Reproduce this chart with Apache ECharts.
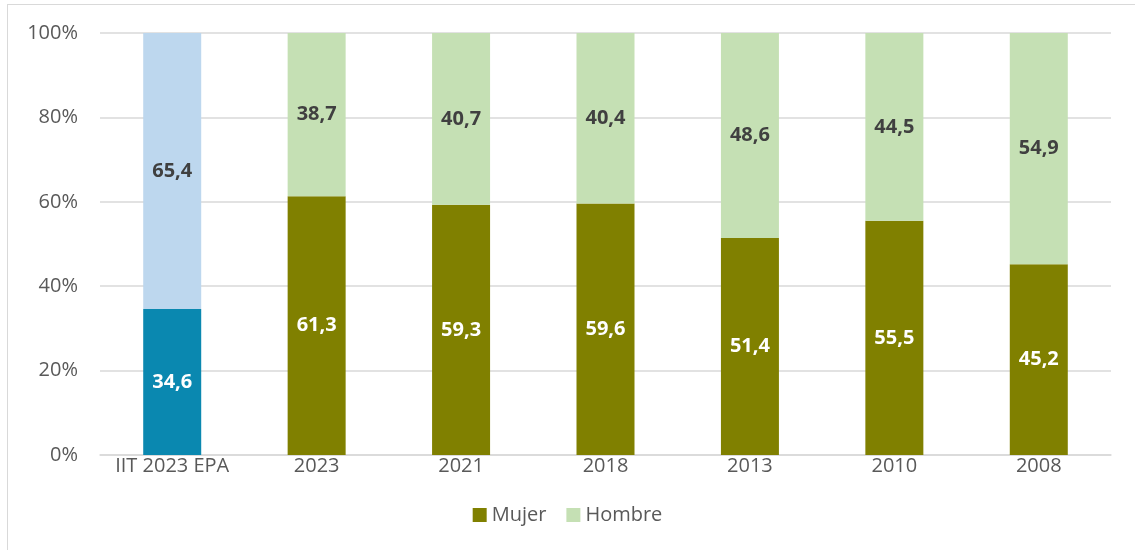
<!DOCTYPE html>
<html>
<head>
<meta charset="utf-8">
<script src="https://cdn.jsdelivr.net/npm/echarts@6/dist/echarts.min.js"></script>
<style>
  html, body { margin: 0; padding: 0; background: #fff; }
  .frame { position: absolute; left: 7px; top: 4px; width: 1140px; height: 560px; border: 1.5px solid #d9d9d9; box-sizing: border-box; }
  #chart { position: absolute; left: 0; top: 0; width: 1135px; height: 550px; }
</style>
</head>
<body>
<div class="frame"></div>
<div id="chart"></div>
<script>
const categories = ['IIT 2023 EPA', '2023', '2021', '2018', '2013', '2010', '2008']
const mujer = [34.6, 61.3, 59.3, 59.6, 51.4, 55.5, 45.2]
const hombre = [65.4, 38.7, 40.7, 40.4, 48.6, 44.5, 54.9]
const yTicks = [0, 20, 40, 60, 80, 100]

const fmt = p => p.value.toFixed(1).replace('.', ',')
const labelFont = { fontFamily: 'Open Sans', fontWeight: 'bold', fontSize: 20 }

const chart = echarts.init(document.getElementById('chart'))
chart.setOption({
  animation: false,
  textStyle: { fontFamily: 'Open Sans' },
  grid: { left: 100, right: 24, top: 33, bottom: 95 },
  legend: {
    bottom: 20,
    left: 'center',
    data: ['Mujer', 'Hombre'],
    icon: 'rect',
    itemWidth: 14,
    itemHeight: 14,
    itemGap: 20,
    textStyle: { color: '#595959', fontSize: 20, fontFamily: 'Open Sans' }
  },
  xAxis: {
    type: 'category',
    data: categories,
    axisLine: { lineStyle: { color: '#d9d9d9', width: 1.5 } },
    axisTick: { show: false },
    axisLabel: { color: '#595959', fontSize: 20, margin: 1, interval: 0, hideOverlap: false }
  },
  yAxis: {
    type: 'value',
    min: yTicks[0],
    max: yTicks[yTicks.length - 1],
    interval: 20,
    axisLine: { show: false },
    axisTick: { show: false },
    axisLabel: { color: '#595959', fontSize: 20, margin: 22, formatter: v => v + '%' },
    splitLine: { lineStyle: { color: '#d9d9d9', width: 1.5 } }
  },
  series: [
    {
      name: 'Mujer',
      type: 'bar',
      stack: 'total',
      barWidth: 58,
      itemStyle: { color: '#808000' },
      label: { show: true, position: 'inside', color: '#fff', formatter: fmt, ...labelFont },
      data: mujer.map((v, i) => i === 0 ? { value: v, itemStyle: { color: '#0a88b0' } } : v)
    },
    {
      name: 'Hombre',
      type: 'bar',
      stack: 'total',
      barWidth: 58,
      itemStyle: { color: '#c5e0b4' },
      label: { show: true, position: 'inside', color: '#404040', formatter: fmt, ...labelFont },
      data: hombre.map((v, i) => i === 0 ? { value: v, itemStyle: { color: '#bdd7ee' } } : v)
    }
  ]
})
</script>
</body>
</html>
